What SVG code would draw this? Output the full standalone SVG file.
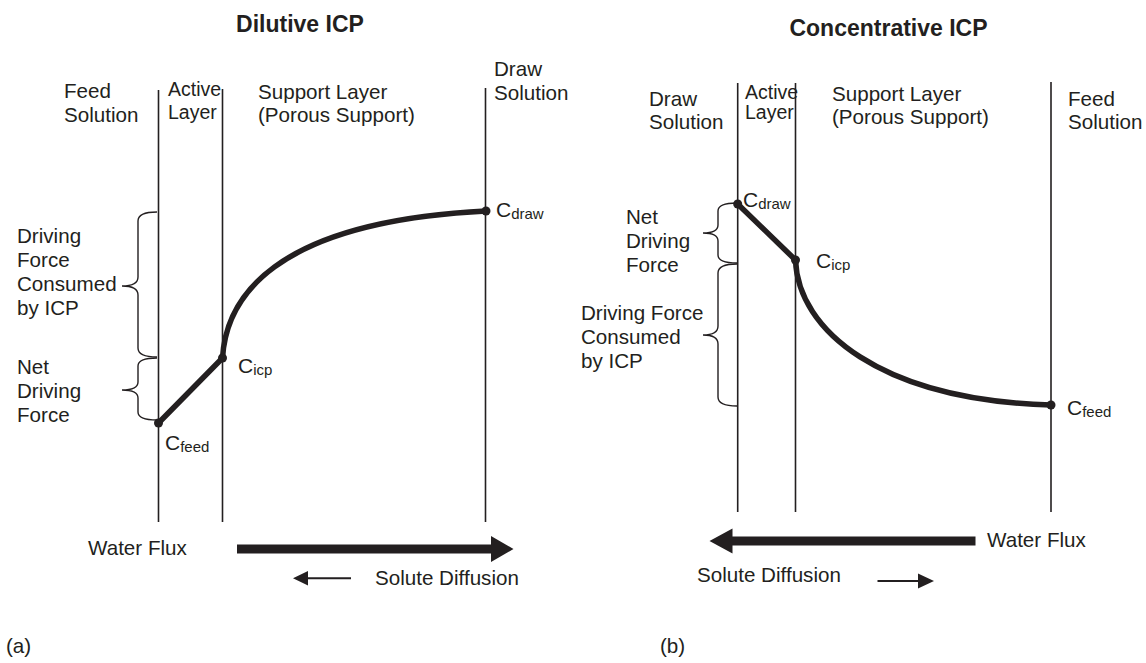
<svg xmlns="http://www.w3.org/2000/svg" width="1146" height="663" viewBox="0 0 1146 663">
<style>
  text { font-family: "Liberation Sans", Arial, sans-serif; fill: #231f20; }
  .t { font-size: 20.6px; }
  .s { font-size: 19.5px; }
  .title { font-size: 23px; font-weight: bold; }
  .c { font-size: 21px; }
  .sub { font-size: 15px; }
  .wall { stroke: #231f20; stroke-width: 1.6; fill: none; }
  .brace { stroke: #231f20; stroke-width: 1.4; fill: none; }
  .prof { stroke: #231f20; stroke-width: 5.5; fill: none; stroke-linecap: round; stroke-linejoin: round; }
  .dot { fill: #231f20; }
  .arr { fill: #231f20; }
</style>
<rect width="1146" height="663" fill="#ffffff"/>

<!-- Panel (a) -->
<g id="panel-a">
  <text class="title" x="300" y="32" text-anchor="middle">Dilutive ICP</text>
  <g id="a-walls">
    <line class="wall" x1="158.5" y1="90" x2="158.5" y2="522"/>
    <line class="wall" x1="222.5" y1="89" x2="222.5" y2="522"/>
    <line class="wall" x1="485.5" y1="88" x2="485.5" y2="522"/>
  </g>
  <g id="a-feed-label">
    <text class="t" x="64" y="98">Feed</text>
    <text class="t" x="64" y="122">Solution</text>
  </g>
  <g id="a-active-label">
    <text class="s" x="168" y="96">Active</text>
    <text class="s" x="168" y="119">Layer</text>
  </g>
  <g id="a-support-label">
    <text class="t" x="258" y="99">Support Layer</text>
    <text class="t" x="258" y="122">(Porous Support)</text>
  </g>
  <g id="a-draw-label">
    <text class="t" x="494" y="76">Draw</text>
    <text class="t" x="494" y="100">Solution</text>
  </g>
  <g id="a-consumed">
    <path class="brace" d="M157,212 Q138,212 138,221 L138,277 Q138,286 122,286 Q138,286 138,295 L138,348 Q138,357 157,357"/>
    <text class="t" x="17" y="243">Driving</text>
    <text class="t" x="17" y="267">Force</text>
    <text class="t" x="17" y="291">Consumed</text>
    <text class="t" x="17" y="315">by ICP</text>
  </g>
  <g id="a-net">
    <path class="brace" d="M157,358 Q138,358 138,366 L138,382 Q138,390 122,390 Q138,390 138,398 L138,412 Q138,420 157,420"/>
    <text class="t" x="17" y="374">Net</text>
    <text class="t" x="17" y="398">Driving</text>
    <text class="t" x="17" y="422">Force</text>
  </g>
  <g id="a-profile">
    <path class="prof" d="M158.5,423 L222.5,358"/>
    <path class="prof" d="M222.5,358 C226,300 270,222 486,211"/>
    <circle class="dot" cx="158.5" cy="423" r="4.5"/>
    <circle class="dot" cx="222.5" cy="358" r="4.5"/>
    <circle class="dot" cx="486" cy="211" r="4.5"/>
  </g>
  <g id="a-cfeed"><text class="c" x="165" y="450">C<tspan class="sub" dy="2">feed</tspan></text></g>
  <g id="a-cicp"><text class="c" x="238" y="373">C<tspan class="sub" dy="2">icp</tspan></text></g>
  <g id="a-cdraw"><text class="c" x="496" y="217">C<tspan class="sub" dy="2">draw</tspan></text></g>
  <g id="a-flux">
    <text class="t" x="88" y="555">Water Flux</text>
    <path class="arr" d="M237,544.5 L491,544.5 L491,536 L513.5,549 L491,562 L491,553.5 L237,553.5 Z"/>
  </g>
  <g id="a-diffusion">
    <path class="arr" d="M351,577.3 L308,577.3 L308,571 L293,578.3 L308,585.5 L308,579.3 L351,579.3 Z"/>
    <text class="t" x="375" y="585">Solute Diffusion</text>
  </g>
  <text class="t" x="6" y="653">(a)</text>
</g>

<!-- Panel (b) -->
<g id="panel-b">
  <text class="title" x="888.5" y="36" text-anchor="middle">Concentrative ICP</text>
  <g id="b-walls">
    <line class="wall" x1="737.7" y1="83" x2="737.7" y2="512"/>
    <line class="wall" x1="795.5" y1="83" x2="795.5" y2="512"/>
    <line class="wall" x1="1051" y1="82" x2="1051" y2="512"/>
  </g>
  <g id="b-draw-label">
    <text class="t" x="649" y="106">Draw</text>
    <text class="t" x="649" y="129">Solution</text>
  </g>
  <g id="b-active-label">
    <text class="s" x="745" y="99">Active</text>
    <text class="s" x="745" y="119">Layer</text>
  </g>
  <g id="b-support-label">
    <text class="t" x="832" y="101">Support Layer</text>
    <text class="t" x="832" y="124">(Porous Support)</text>
  </g>
  <g id="b-feed-label">
    <text class="t" x="1068" y="106">Feed</text>
    <text class="t" x="1068" y="129">Solution</text>
  </g>
  <g id="b-net">
    <path class="brace" d="M737,203 Q718,203 718,211 L718,225 Q718,233 703,233 Q718,233 718,241 L718,255 Q718,263 737,263"/>
    <text class="t" x="626" y="224">Net</text>
    <text class="t" x="626" y="248">Driving</text>
    <text class="t" x="626" y="272">Force</text>
  </g>
  <g id="b-consumed">
    <path class="brace" d="M737,264 Q718,264 718,273 L718,326 Q718,335 703,335 Q718,335 718,344 L718,397 Q718,406 737,406"/>
    <text class="t" x="581" y="320">Driving Force</text>
    <text class="t" x="581" y="344">Consumed</text>
    <text class="t" x="581" y="368">by ICP</text>
  </g>
  <g id="b-profile">
    <path class="prof" d="M737.7,204 L795.5,260"/>
    <path class="prof" d="M795.5,260 C798,330 880,400 1051,405"/>
    <circle class="dot" cx="737.7" cy="204" r="4.5"/>
    <circle class="dot" cx="795.5" cy="260" r="4.5"/>
    <circle class="dot" cx="1051" cy="405" r="4.5"/>
  </g>
  <g id="b-cdraw"><text class="c" x="743" y="207">C<tspan class="sub" dy="2">draw</tspan></text></g>
  <g id="b-cicp"><text class="c" x="816" y="268">C<tspan class="sub" dy="2">icp</tspan></text></g>
  <g id="b-cfeed"><text class="c" x="1067" y="415">C<tspan class="sub" dy="2">feed</tspan></text></g>
  <g id="b-flux">
    <path class="arr" d="M975.5,536.5 L732.5,536.5 L732.5,528.5 L709.5,541 L732.5,553.5 L732.5,545.5 L975.5,545.5 Z"/>
    <text class="t" x="987" y="547">Water Flux</text>
  </g>
  <g id="b-diffusion">
    <text class="t" x="697" y="582">Solute Diffusion</text>
    <path class="arr" d="M877.5,580 L918,580 L918,573.5 L934,581 L918,588.5 L918,582 L877.5,582 Z"/>
  </g>
  <text class="t" x="660" y="653">(b)</text>
</g>
</svg>
